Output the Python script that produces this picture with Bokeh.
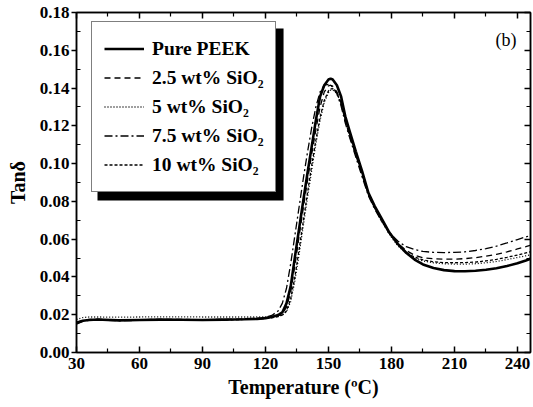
from bokeh.plotting import figure
from bokeh.models import (Range1d, LinearAxis, FixedTicker, PrintfTickFormatter,
                          Legend, LegendItem, BoxAnnotation, Label)
from bokeh.embed import file_html
from bokeh.resources import INLINE

# ---------------- data ----------------
temperature = [30, 33, 36, 40, 50, 60, 70, 80, 90, 100, 110, 116, 120, 123, 126, 128,
               130, 132, 134, 136, 138, 140, 142, 144, 146, 148, 150, 151, 152, 154,
               156, 158, 160, 163, 166, 169, 172, 175, 179, 183, 187, 191, 195, 200,
               205, 210, 215, 220, 225, 230, 235, 240, 244, 247]

pure_peek = [0.0158, 0.0168, 0.0172, 0.0175, 0.0170, 0.0172, 0.0174, 0.0173, 0.0172, 0.0174,
             0.0176, 0.0178, 0.0182, 0.0188, 0.0198, 0.0212, 0.0260, 0.0350, 0.0505, 0.0655,
             0.0805, 0.0950, 0.1090, 0.1230, 0.1355, 0.1415, 0.1445, 0.1450, 0.1445, 0.1415,
             0.1355, 0.1250, 0.1175, 0.1065, 0.0960, 0.0845, 0.0775, 0.0715, 0.0635, 0.0575,
             0.0528, 0.0492, 0.0466, 0.0447, 0.0436, 0.0431, 0.0430, 0.0433, 0.0438, 0.0446,
             0.0458, 0.0472, 0.0487, 0.0500]

sio2_2_5 = [0.0160, 0.0170, 0.0175, 0.0176, 0.0172, 0.0174, 0.0175, 0.0175, 0.0174, 0.0175,
            0.0177, 0.0179, 0.0182, 0.0187, 0.0195, 0.0205, 0.0240, 0.0320, 0.0460, 0.0615,
            0.0765, 0.0910, 0.1050, 0.1180, 0.1300, 0.1380, 0.1412, 0.1415, 0.1410, 0.1380,
            0.1320, 0.1225, 0.1150, 0.1045, 0.0940, 0.0835, 0.0765, 0.0705, 0.0630, 0.0578,
            0.0540, 0.0515, 0.0502, 0.0496, 0.0494, 0.0494, 0.0497, 0.0502, 0.0510, 0.0520,
            0.0533, 0.0548, 0.0560, 0.0570]

sio2_5 = [0.0175, 0.0185, 0.0188, 0.0188, 0.0187, 0.0188, 0.0189, 0.0189, 0.0188, 0.0188,
          0.0188, 0.0188, 0.0188, 0.0189, 0.0192, 0.0198, 0.0215, 0.0270, 0.0380, 0.0520,
          0.0670, 0.0820, 0.0965, 0.1105, 0.1230, 0.1325, 0.1375, 0.1388, 0.1390, 0.1370,
          0.1315, 0.1230, 0.1155, 0.1050, 0.0945, 0.0840, 0.0765, 0.0700, 0.0625, 0.0565,
          0.0525, 0.0500, 0.0485, 0.0475, 0.0470, 0.0468, 0.0468, 0.0470, 0.0475, 0.0482,
          0.0492, 0.0503, 0.0512, 0.0520]

sio2_7_5 = [0.0150, 0.0165, 0.0170, 0.0172, 0.0168, 0.0170, 0.0172, 0.0171, 0.0170, 0.0172,
            0.0176, 0.0180, 0.0186, 0.0196, 0.0220, 0.0260, 0.0340, 0.0470, 0.0620, 0.0770,
            0.0920, 0.1060, 0.1190, 0.1300, 0.1380, 0.1415, 0.1420, 0.1415, 0.1405, 0.1370,
            0.1305, 0.1215, 0.1140, 0.1035, 0.0930, 0.0830, 0.0760, 0.0700, 0.0635, 0.0590,
            0.0560, 0.0545, 0.0535, 0.0530, 0.0529, 0.0530, 0.0533, 0.0540, 0.0550, 0.0563,
            0.0580, 0.0598, 0.0612, 0.0622]

sio2_10 = [0.0155, 0.0167, 0.0172, 0.0173, 0.0170, 0.0171, 0.0172, 0.0172, 0.0171, 0.0173,
           0.0175, 0.0177, 0.0180, 0.0184, 0.0190, 0.0198, 0.0220, 0.0285, 0.0400, 0.0545,
           0.0695, 0.0845, 0.0990, 0.1125, 0.1245, 0.1335, 0.1385, 0.1395, 0.1397, 0.1375,
           0.1320, 0.1235, 0.1160, 0.1055, 0.0950, 0.0845, 0.0770, 0.0705, 0.0630, 0.0570,
           0.0530, 0.0505, 0.0490, 0.0480, 0.0476, 0.0475, 0.0476, 0.0479, 0.0485, 0.0493,
           0.0504, 0.0516, 0.0527, 0.0535]

series_labels = ["Pure PEEK", "2.5 wt% SiO\u2082", "5 wt% SiO\u2082",
                 "7.5 wt% SiO\u2082", "10 wt% SiO\u2082"]

x_ticks = [30, 60, 90, 120, 150, 180, 210, 240]
x_minor = [45, 75, 105, 135, 165, 195, 225]
y_ticks = [0.00, 0.02, 0.04, 0.06, 0.08, 0.10, 0.12, 0.14, 0.16, 0.18]
y_minor = [0.01, 0.03, 0.05, 0.07, 0.09, 0.11, 0.13, 0.15, 0.17]

# ---------------- figure ----------------
FONT = "Liberation Serif"

p = figure(width=532, height=403, output_backend="svg", toolbar_location=None,
           x_range=Range1d(30, 246.2), y_range=Range1d(0, 0.18),
           min_border_left=76, min_border_top=12, min_border_right=2, min_border_bottom=51,
           x_axis_label="Temperature (\u00baC)", y_axis_label="Tan\u03b4")
p.background_fill_color = "white"
p.border_fill_color = "white"
p.grid.visible = False
p.outline_line_color = "black"
p.outline_line_width = 1.5

xt = FixedTicker(ticks=x_ticks, minor_ticks=x_minor)
yt = FixedTicker(ticks=y_ticks, minor_ticks=y_minor)

xa = p.xaxis[0]
xa.ticker = xt
ya = p.yaxis[0]
ya.ticker = yt
ya.formatter = PrintfTickFormatter(format="%.2f")

for ax in (xa, ya):
    ax.axis_line_width = 1.5
    ax.major_tick_line_width = 1.5
    ax.minor_tick_line_width = 1.2
    ax.major_label_text_font = FONT
    ax.major_label_text_font_style = "bold"
    ax.major_label_text_font_size = "17px"
    ax.major_label_text_color = "black"
    ax.axis_label_text_font = FONT
    ax.axis_label_text_font_style = "bold"
    ax.axis_label_text_font_size = "20px"
    ax.axis_label_text_color = "black"

xa.major_tick_in = 6
xa.major_tick_out = 0
xa.minor_tick_in = 4
xa.minor_tick_out = 0
xa.major_label_standoff = 5
xa.axis_label_standoff = 4

ya.major_tick_in = 0
ya.major_tick_out = 5
ya.minor_tick_in = 4
ya.minor_tick_out = 0
ya.major_label_standoff = 2
ya.axis_label_standoff = 8

top = LinearAxis(ticker=xt, major_label_standoff=0,
                 major_label_overrides={t: "" for t in x_ticks},
                 major_tick_in=6, major_tick_out=0, minor_tick_in=4, minor_tick_out=0,
                 axis_line_width=1.5, major_tick_line_width=1.5, minor_tick_line_width=1.2)
right = LinearAxis(ticker=yt, major_label_standoff=0,
                   major_label_overrides={t: "" for t in y_ticks},
                   major_tick_in=6, major_tick_out=0, minor_tick_in=4, minor_tick_out=0,
                   axis_line_width=1.5, major_tick_line_width=1.5, minor_tick_line_width=1.2)
p.add_layout(top, "above")
p.add_layout(right, "right")

styles = [
    (pure_peek, "solid", 2.6),
    (sio2_2_5, "6 4", 1.3),
    (sio2_5, "1 2", 1.3),
    (sio2_7_5, "8 3 2 3", 1.3),
    (sio2_10, "3 2", 1.3),
]
renderers = []
for vals, dash, w in styles:
    r = p.line(temperature, vals, line_color="black", line_width=w, line_dash=dash)
    renderers.append(r)

# legend shadow (decorative, placed in data space behind the legend)
shadow = BoxAnnotation(left=40.0, right=128.6, top=0.1715, bottom=0.0805,
                       fill_color="black", fill_alpha=1.0, line_alpha=0.0)
p.add_layout(shadow)

legend = Legend(items=[LegendItem(label=lab, renderers=[r]) for lab, r in zip(series_labels, renderers)],
                location=(15, 160), orientation="vertical",
                label_text_font=FONT, label_text_font_style="bold", label_text_font_size="19.5px",
                label_text_color="black",
                glyph_width=40, glyph_height=29, label_height=29, label_standoff=8,
                spacing=0, padding=12, margin=0,
                border_line_color="black", border_line_width=1.5,
                background_fill_color="white", background_fill_alpha=1.0)
p.add_layout(legend)

p.add_layout(Label(x=229.5, y=0.1600, text="(b)", text_baseline="bottom",
                   text_font=FONT, text_font_size="18px", text_color="black"))

open("out.html", "w").write(file_html(p, INLINE))
